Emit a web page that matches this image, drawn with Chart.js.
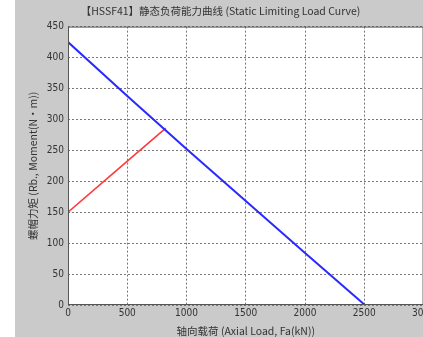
<!DOCTYPE html>
<html>
<head>
<meta charset="utf-8">
<script src="https://cdn.jsdelivr.net/npm/chart.js@4/dist/chart.umd.min.js"></script>
<style>
  html, body { margin: 0; padding: 0; background: #fff; }
  #wrap { position: absolute; left: 15px; top: 0; width: 408px; height: 337px; overflow: hidden; background: #cacaca; }
  #box { width: 422px; height: 337px; }
</style>
</head>
<body>
<div id="wrap"><div id="box"><canvas id="curve"></canvas></div></div>
<script>
// values
const limitLoad = [0, 500, 1000, 1500, 2000, 2505];
const limitMoment = [425, 338, 252, 168, 84, 0];
const nutLoad = [0, 400, 825];
const nutMoment = [150, 216, 286];
const xTicks = [0, 500, 1000, 1500, 2000, 2500, 3000];
const yTicks = [0, 50, 100, 150, 200, 250, 300, 350, 400, 450];

const tickFont = { family: "'Liberation Sans Narrow', 'DejaVu Sans Condensed', 'DejaVu Sans', sans-serif", size: 10 };
const cjkFont = "'Noto Sans CJK SC', 'Noto Sans', sans-serif";

const plotBox = {
    id: 'plotBox',
    beforeDraw(chart) {
        const a = chart.chartArea;
        const c = chart.ctx;
        c.save();
        c.fillStyle = '#ffffff';
        c.fillRect(a.left, a.top, a.right - a.left, a.bottom - a.top);
        c.restore();
    },
    afterDraw(chart) {
        const a = chart.chartArea;
        const c = chart.ctx;
        c.save();
        c.strokeStyle = '#555';
        c.lineWidth = 1;
        c.strokeRect(a.left + 0.5, a.top + 0.5, a.right - a.left - 1, a.bottom - a.top - 1);
        c.restore();
    }
};

const pairs = (xs, ys) => xs.map((x, i) => ({ x: x, y: ys[i] }));

new Chart(document.getElementById('curve'), {
    type: 'scatter',
    data: {
        datasets: [{
            data: pairs(limitLoad, limitMoment),
            showLine: true,
            borderColor: '#2a2aff',
            borderWidth: 2,
            pointRadius: 0,
            tension: 0
        }, {
            data: pairs(nutLoad, nutMoment),
            showLine: true,
            borderColor: '#ff3a3a',
            borderWidth: 1.6,
            pointRadius: 0,
            tension: 0
        }]
    },
    options: {
        responsive: true,
        maintainAspectRatio: false,
        animation: false,
        layout: { padding: { top: 0, right: 11, bottom: 0, left: 0 } },
        plugins: {
            legend: { display: false },
            tooltip: { enabled: false },
            title: {
                display: true,
                text: '【HSSF41】静态负荷能力曲线 (Static Limiting Load Curve)',
                color: '#333',
                font: { family: cjkFont, size: 10.5, weight: 'normal' },
                padding: { top: 5, bottom: 9 }
            }
        },
        scales: {
            x: {
                type: 'linear',
                min: 0,
                max: 3000,
                afterBuildTicks: s => { s.ticks = xTicks.map(v => ({ value: v })); },
                afterFit: s => { s.height = 32; },
                ticks: { color: '#333', font: tickFont, padding: 2, maxRotation: 0, callback: v => String(v) },
                grid: { color: '#777', drawTicks: false, tickLength: 0 },
                border: { display: false, dash: [2, 2] },
                title: {
                    display: true,
                    text: '轴向载荷 (Axial Load, Fa(kN))',
                    color: '#333',
                    font: { family: cjkFont, size: 10.5 },
                    padding: { top: 0, bottom: 0 }
                }
            },
            y: {
                type: 'linear',
                min: 0,
                max: 450,
                afterBuildTicks: s => { s.ticks = yTicks.map(v => ({ value: v })); },
                afterFit: s => { s.width = 53; },
                ticks: { color: '#333', font: tickFont, padding: 4, callback: v => String(v) },
                grid: { color: '#777', drawTicks: false, tickLength: 0 },
                border: { display: false, dash: [2, 2] },
                title: {
                    display: true,
                    text: '螺帽力矩 (Rb., Moment(N·m))',
                    color: '#333',
                    font: { family: cjkFont, size: 10.5 },
                    padding: { top: 12, bottom: 0 }
                }
            }
        }
    },
    plugins: [plotBox]
});
</script>
</body>
</html>
